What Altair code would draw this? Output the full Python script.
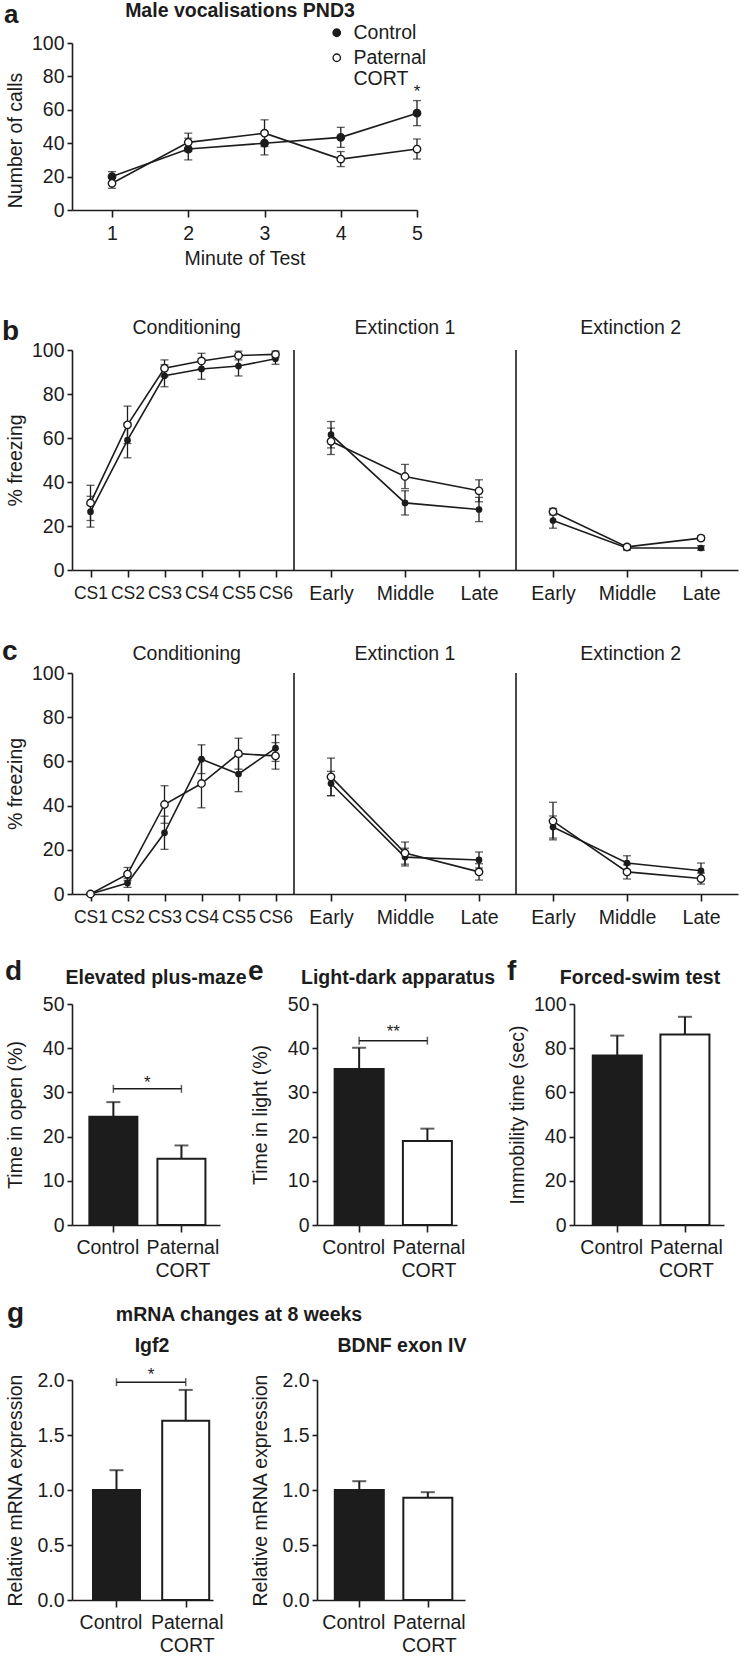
import json
import altair as alt
import pandas as pd

FONT = "Liberation Sans, Arial, Helvetica, sans-serif"
NARROW = "Liberation Sans Narrow, Arial Narrow, Liberation Sans, sans-serif"
INK = "#1c1c1c"
FS = 19.5
LETTER = 28

GROUPS = ["Control", "Paternal CORT"]

# ---------------- panel a : vocalisations ----------------
a_minute = [1, 2, 3, 4, 5]
a_ctrl = [20, 36.5, 40, 43.5, 58]
a_ctrl_err = [3, 6.5, 7, 6, 7.5]
a_cort = [16, 40.5, 46, 30.5, 36.5]
a_cort_err = [3, 5.5, 8, 4.5, 6]
a_star_minute = [5]
a_star_y = [73]

# ---------------- panels b, c : fear conditioning ----------------
bc_pos = [1, 2, 3, 4, 5, 6, 7.5, 9.5, 11.5, 13.5, 15.5, 17.5]
bc_labels = ["CS1", "CS2", "CS3", "CS4", "CS5", "CS6",
             "Early", "Middle", "Late", "Early", "Middle", "Late"]
bc_phase = ["Conditioning"] * 6 + ["Extinction 1"] * 3 + ["Extinction 2"] * 3
phase_names = ["Conditioning", "Extinction 1", "Extinction 2"]
phase_center = [3.6, 9.5, 15.6]
phase_break = [6.5, 12.5]

b_ctrl = [26.5, 59, 88.3, 91.4, 92.7, 96, 61.5, 30.5, 27.5, 22.5, 10, 10]
b_ctrl_err = [7, 8, 5, 4.7, 4.5, 2.5, 6, 5.5, 5.5, 3.5, 1, 1]
b_cort = [30.5, 66, 91.7, 95, 97.5, 98, 58.5, 42.5, 36, 26.5, 10.5, 14.5]
b_cort_err = [8, 8.5, 3.8, 3.5, 2, 1.5, 6, 5.5, 5, 1.5, 1, 1]

c_ctrl = [0, 5, 27.7, 61, 54.3, 66, 50, 16.7, 15.4, 30.3, 14, 10.5]
c_ctrl_err = [0.5, 2, 7.5, 6.5, 8, 6, 5.5, 4, 3.6, 5, 3.3, 3.5]
c_cort = [0, 9, 40.5, 50, 63.5, 62.5, 53, 18.5, 10, 33, 10, 7]
c_cort_err = [0.5, 3, 8.5, 11, 7, 6, 8.5, 5, 3.7, 8.5, 3.2, 2.5]

# ---------------- bar panels ----------------
d_mean = [24.5, 15.0]
d_err = [3.3, 3.0]
d_sig_y = [30.8]
d_star = ["*"]
d_star_y = [33.0]

e_mean = [35.3, 19.0]
e_err = [4.8, 2.8]
e_sig_y = [41.7]
e_star = ["**"]
e_star_y = [44.6]

f_mean = [76.7, 86.2]
f_err = [9.0, 8.0]

g1_mean = [1.00, 1.63]
g1_err = [0.18, 0.28]
g1_sig_y = [1.98]
g1_star = ["*"]
g1_star_y = [2.08]

g2_mean = [1.00, 0.93]
g2_err = [0.08, 0.05]


# ---------------- helpers ----------------
def frame(l, r, t, b):
    """Invisible rule that fixes the bounding box of a panel (layout only)."""
    return alt.Chart(pd.DataFrame({"f": [0]})).mark_rule(
        strokeOpacity=0, opacity=0
    ).encode(x=alt.value(-l), x2=alt.value(r), y=alt.value(-t), y2=alt.value(b))


def label(text, x, y, size=FS, weight="bold", align="center", baseline="alphabetic"):
    return alt.Chart(pd.DataFrame({"t": [text]})).mark_text(
        font=FONT, fontSize=size, fontWeight=weight, align=align,
        baseline=baseline, color=INK
    ).encode(text="t:N", x=alt.value(x), y=alt.value(y))


def letter(text, x, y, size=LETTER, baseline="alphabetic"):
    return label(text, x, y, size=size, align="left", baseline=baseline)


def series(pos, phase, mean, err, group):
    return pd.DataFrame({
        "pos": pos, "phase": phase, "mean": mean,
        "lo": [m - e for m, e in zip(mean, err)],
        "hi": [m + e for m, e in zip(mean, err)],
        "group": group,
    })


def yaxis(values, title, H, fmt=None, title_y=None):
    kw = dict(values=values, title=title, tickSize=5, labelPadding=3,
              titleX=-57, titleY=(H / 2 if title_y is None else title_y),
              titleAngle=270, titleBaseline="middle", titleAlign="center",
              labelFlush=False, labelOverlap=False, grid=False)
    if fmt:
        kw["format"] = fmt
    return alt.Axis(**kw)


def line_layers(dfs, X, Y, cap=8):
    layers = []
    for df in dfs:
        c = alt.Chart(df)
        layers.append(c.mark_rule(color=INK, strokeWidth=1.3).encode(
            x=X("pos"), y=Y("lo"), y2="hi:Q"))
        layers.append(c.mark_tick(color=INK, orient="horizontal", size=cap, thickness=1.3).encode(
            x=X("pos"), y=Y("lo")))
        layers.append(c.mark_tick(color=INK, orient="horizontal", size=cap, thickness=1.3).encode(
            x=X("pos"), y=Y("hi")))
    for df in dfs:
        layers.append(alt.Chart(df).mark_line(color=INK, strokeWidth=1.6).encode(
            x=X("pos"), y=Y("mean"), detail="phase:N"))
    return layers


# ---------------- panel a ----------------
aW, aH = 345, 167
a_xs = alt.Scale(domain=[0.475, 5], nice=False, zero=False)
a_xax = alt.Axis(values=a_minute, format="d", title="Minute of Test", tickSize=7,
                 labelPadding=7, labelBaseline="top", titleX=aW / 2, titleY=48,
                 titleBaseline="middle", titleAlign="center", labelFlush=False,
                 labelOverlap=False, grid=False)
a_ys = alt.Scale(domain=[0, 100], nice=False, zero=False)
a_yax = yaxis([0, 20, 40, 60, 80, 100], "Number of calls", aH, title_y=97)


def aX(f):
    return alt.X(f"{f}:Q", scale=a_xs, axis=a_xax)


def aY(f):
    return alt.Y(f"{f}:Q", scale=a_ys, axis=a_yax)


a_c = series(a_minute, ["all"] * 5, a_ctrl, a_ctrl_err, GROUPS[0])
a_p = series(a_minute, ["all"] * 5, a_cort, a_cort_err, GROUPS[1])
a_all = pd.concat([a_c, a_p], ignore_index=True)

a_points = alt.Chart(a_all).mark_circle(size=55, stroke=INK, strokeWidth=1.4, opacity=1).encode(
    x=aX("pos"), y=aY("mean"),
    fill=alt.Fill("group:N", scale=alt.Scale(domain=GROUPS, range=[INK, "white"]),
                  legend=alt.Legend(
                      title=None, orient="none", legendX=255, legendY=-20,
                      direction="vertical", labelFont=FONT, labelFontSize=FS,
                      labelColor=INK, symbolType="circle", symbolSize=55,
                      symbolStrokeColor=INK, symbolStrokeWidth=1.4,
                      labelOffset=7, rowPadding=4, padding=0,
                      labelExpr="datum.label == '" + GROUPS[1] + "' ? split(datum.label, ' ') : datum.label")),
)
a_star = alt.Chart(pd.DataFrame({"pos": a_star_minute, "y": a_star_y, "t": ["*"]})).mark_text(
    font=FONT, fontSize=17, color=INK, baseline="middle", dy=4
).encode(x=aX("pos"), y=aY("y"), text="t:N")

row_a = alt.layer(
    frame(72, 680, 43, 247),
    *line_layers([a_c, a_p], aX, aY),
    a_points, a_star,
    letter("a", -68, -41, size=26, baseline="top"),
    label("Male vocalisations PND3", 168, -26),
).properties(width=aW, height=aH)


# ---------------- panels b, c ----------------
bcW = 666
bc_xs = alt.Scale(domain=[0.5, 18.5], nice=False, zero=False)
labels_js = ",".join("'" + s + "'" for s in bc_labels)
pos_js = ",".join(str(p) for p in bc_pos)
bc_xax = alt.Axis(
    values=bc_pos, title=None, tickSize=7, labelPadding=7, labelBaseline="top",
    labelExpr=f"[{labels_js}][indexof([{pos_js}], datum.value)]",
    labelFont={"condition": {"test": "datum.value <= 6", "value": NARROW}, "value": FONT},
    labelFontSize={"condition": {"test": "datum.value <= 6", "value": 17.5}, "value": FS},
    labelFlush=False, labelOverlap=False, grid=False)


def fear_row(ctrl, ctrl_err, cort, cort_err, H, let, letter_y, title_y, fr):
    ys = alt.Scale(domain=[0, 100], nice=False, zero=False)
    yax = yaxis([0, 20, 40, 60, 80, 100], "% freezing", H)

    def X(f):
        return alt.X(f"{f}:Q", scale=bc_xs, axis=bc_xax)

    def Y(f):
        return alt.Y(f"{f}:Q", scale=ys, axis=yax)

    dc = series(bc_pos, bc_phase, ctrl, ctrl_err, GROUPS[0])
    dp = series(bc_pos, bc_phase, cort, cort_err, GROUPS[1])
    seps = alt.Chart(pd.DataFrame({"pos": phase_break})).mark_rule(
        color=INK, strokeWidth=1.6).encode(x=X("pos"), y=alt.value(0), y2=alt.value(H))
    titles = alt.Chart(pd.DataFrame({"pos": phase_center, "t": phase_names})).mark_text(
        font=FONT, fontSize=FS, color=INK, baseline="alphabetic"
    ).encode(x=X("pos"), y=alt.value(title_y), text="t:N")
    pc = alt.Chart(dc).mark_circle(size=45, color=INK, opacity=1).encode(x=X("pos"), y=Y("mean"))
    pp = alt.Chart(dp).mark_circle(size=55, fill="white", stroke=INK, strokeWidth=1.4,
                                   opacity=1).encode(x=X("pos"), y=Y("mean"))
    return alt.layer(
        frame(*fr), seps, *line_layers([dc, dp], X, Y), pc, pp, titles,
        letter(let, -70, letter_y),
    ).properties(width=bcW, height=H)


row_b = fear_row(b_ctrl, b_ctrl_err, b_cort, b_cort_err, 220, "b", -10, -16, (72, 680, 60, 268))
row_c = fear_row(c_ctrl, c_ctrl_err, c_cort, c_cort_err, 221, "c", -13, -13, (72, 680, 55, 267))


# ---------------- bar panels ----------------
def bar_panel(mean, err, W, H, c1, c2, bw, ydom, yvals, ytitle, fr, fmt=None,
              sig_y=None, star=None, star_y=None, texts=()):
    s = c2 - c1
    xs = alt.Scale(domain=[-c1 / s, (W - c1) / s], nice=False, zero=False)
    xax = alt.Axis(values=[0, 1], title=None, tickSize=7, labelPadding=6,
                   labelBaseline="top", labelLineHeight=23,
                   labelOffset={"condition": {"test": "datum.value < 0.5", "value": -6}, "value": 1},
                   labelExpr="datum.value < 0.5 ? '" + GROUPS[0] + "' : split('" + GROUPS[1] + "', ' ')",
                   labelFlush=False, labelOverlap=False, grid=False)
    ys = alt.Scale(domain=ydom, nice=False, zero=True)
    yax = yaxis(yvals, ytitle, H, fmt=fmt)

    def X(f):
        return alt.X(f"{f}:Q", scale=xs, axis=xax)

    def Y(f):
        return alt.Y(f"{f}:Q", scale=ys, axis=yax)

    df = pd.DataFrame({"i": [0, 1], "val": mean,
                       "top": [m + e for m, e in zip(mean, err)]})
    layers = [frame(*fr)]
    layers.append(alt.Chart(df).mark_rule(color=INK, strokeWidth=2).encode(
        x=X("i"), y=Y("val"), y2="top:Q"))
    layers.append(alt.Chart(df).mark_tick(color=INK, orient="horizontal", size=14, thickness=2).encode(
        x=X("i"), y=Y("top")))
    for k, fill in enumerate([INK, "white"]):
        layers.append(alt.Chart(df.iloc[[k]]).mark_bar(
            orient="vertical", width=bw - 2, fill=fill, stroke=INK, strokeWidth=2).encode(
            x=X("i"), y=Y("val")))
    if sig_y is not None:
        sd = pd.DataFrame({"i": [0], "j": [1], "y": sig_y})
        layers.append(alt.Chart(sd).mark_rule(color=INK, strokeWidth=1.5).encode(
            x=X("i"), x2="j:Q", y=Y("y")))
        ed = pd.DataFrame({"i": [0, 1], "y": sig_y * 2})
        layers.append(alt.Chart(ed).mark_tick(color=INK, orient="vertical", size=8, thickness=1.5).encode(
            x=X("i"), y=Y("y")))
        td = pd.DataFrame({"i": [0.5], "y": star_y, "t": star})
        layers.append(alt.Chart(td).mark_text(font=FONT, fontSize=17, color=INK,
                                              baseline="middle", dy=4).encode(
            x=X("i"), y=Y("y"), text="t:N"))
    layers.extend(texts)
    return alt.layer(*layers).properties(width=W, height=H)


pd_d = bar_panel(d_mean, d_err, 148, 221, 39, 112, 50, [0, 50], [0, 10, 20, 30, 40, 50],
                 "Time in open  (%)", (72, 50, 64, 286),
                 sig_y=d_sig_y, star=d_star, star_y=d_star_y,
                 texts=[letter("d", -67, -24), label("Elevated plus-maze", 84, -20)])
pd_e = bar_panel(e_mean, e_err, 140, 221, 40, 113.5, 51, [0, 50], [0, 10, 20, 30, 40, 50],
                 "Time in light (%)", (70, 182, 64, 286),
                 sig_y=e_sig_y, star=e_star, star_y=e_star_y,
                 texts=[letter("e", -69, -24), label("Light-dark apparatus", 81, -20)])
pd_f = bar_panel(f_mean, f_err, 150, 221, 41, 113.5, 51, [0, 100], [0, 20, 40, 60, 80, 100],
                 "Immobility time (sec)", (75, 155, 64, 286),
                 texts=[letter("f", -67, -24), label("Forced-swim test", 66, -20)])
row_def = alt.hconcat(pd_d, pd_e, pd_f, spacing=0)

row_gt = alt.layer(
    frame(72, 680, 0, 40),
    letter("g", -65, 32),
    label("mRNA changes at 8 weeks", 167, 31),
).properties(width=1, height=1)

pd_g1 = bar_panel(g1_mean, g1_err, 141, 220, 42.5, 117, 49, [0, 2], [0, 0.5, 1.0, 1.5, 2.0],
                  "Relative mRNA expression", (72, 176, 50, 277), fmt=".1f",
                  sig_y=g1_sig_y, star=g1_star, star_y=g1_star_y,
                  texts=[label("Igf2", 80, -28)])
pd_g2 = bar_panel(g2_mean, g2_err, 148, 220, 40, 113.5, 51, [0, 2], [0, 0.5, 1.0, 1.5, 2.0],
                  "Relative mRNA expression", (69, 435, 50, 277), fmt=".1f",
                  texts=[label("BDNF exon IV", 85, -28)])
row_g = alt.hconcat(pd_g1, pd_g2, spacing=0)

chart = alt.vconcat(row_a, row_b, row_c, row_def, row_gt, row_g, spacing=0).resolve_scale(
    fill="independent").resolve_legend(fill="independent").properties(
    padding=0, background="white"
).configure_axis(
    domainColor=INK, domainWidth=1.6, tickColor=INK, tickWidth=1.6,
    labelColor=INK, titleColor=INK, labelFont=FONT, titleFont=FONT,
    labelFontSize=FS, titleFontSize=FS, titleFontWeight="normal", grid=False
).configure_view(strokeWidth=0)

chart.save("out.html", embed_options={"renderer": "svg", "actions": False})
